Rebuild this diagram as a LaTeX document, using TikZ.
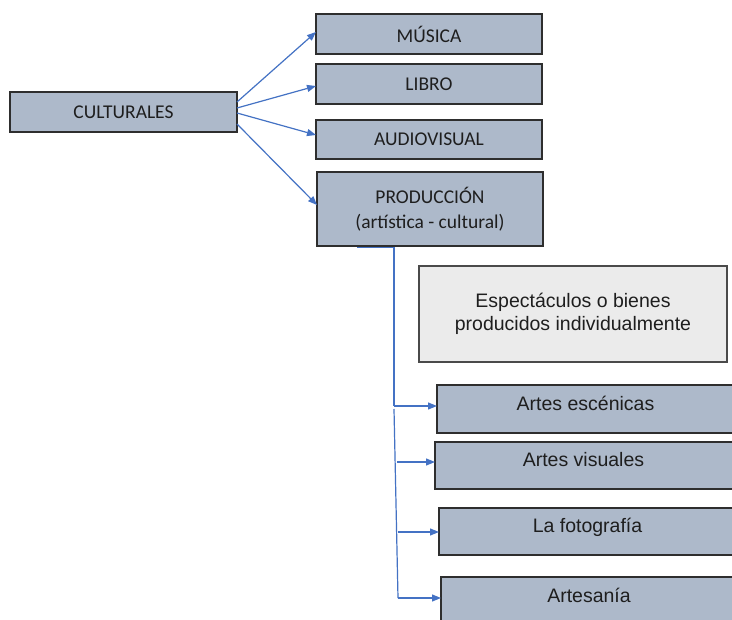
\documentclass[tikz,border=0pt]{standalone}
\usepackage{fontspec}
\setmainfont{Liberation Sans}
\newfontfamily\calibrifont{Carlito}
\usetikzlibrary{arrows.meta,calc}
\definecolor{boxfill}{HTML}{ADB9CA}
\definecolor{boxline}{HTML}{2E2E2E}
\definecolor{lightfill}{HTML}{EBEBEB}
\definecolor{noteline}{HTML}{4A4A4A}
\definecolor{conncol}{HTML}{4472C4}
\definecolor{txt}{HTML}{1E1E1E}
\begin{document}
\begin{tikzpicture}[x=1pt,y=-1pt,
  base/.style={draw=boxline, line width=1.3pt, inner sep=0pt, outer sep=0pt, anchor=north west, text=txt},
  topbox/.style={base, fill=boxfill, font=\calibrifont\fontsize{19.5pt}{25pt}\selectfont, align=center},
  lowbox/.style={base, fill=boxfill, font=\fontsize{19.5pt}{23pt}\selectfont, text height=14pt, text depth=11pt},
  notebox/.style={base, fill=lightfill, draw=noteline, line width=1.1pt, font=\fontsize{19.5pt}{23pt}\selectfont, align=center},
  conn/.style={draw=conncol, line width=1.2pt, -{Triangle[length=9pt,width=7pt]}},
  plain/.style={draw=conncol, line width=1.2pt}]
\clip (0,0) rectangle (732,620);
\fill[white] (0,0) rectangle (732,620);
% top part
\node[topbox, minimum width=227pt, minimum height=40pt] (cult) at (10,92) {CULTURALES};
\node[topbox, minimum width=226pt, minimum height=40pt] (mus) at (316,14) {MÚSICA};
\node[topbox, minimum width=226pt, minimum height=40pt] (lib) at (316,64) {LIBRO};
\node[topbox, minimum width=226pt, minimum height=39pt] (aud) at (316,120) {AUDIOVISUAL};
\node[topbox, minimum width=226pt, minimum height=74pt] (prod) at (317,172) {PRODUCCIÓN\\(artística - cultural)};
% note box
\node[notebox, minimum width=308pt, minimum height=96pt] (note) at (419,266) {Espectáculos o bienes\\producidos individualmente};
% lower boxes (right edge runs past the picture)
\node[lowbox, minimum width=309pt, minimum height=48pt] (esc) at (437,385) {Artes escénicas\hspace*{12pt}};
\node[lowbox, minimum width=309pt, minimum height=47pt] (vis) at (435,442) {Artes visuales\hspace*{12pt}};
\node[lowbox, minimum width=309pt, minimum height=47pt] (fot) at (439,508) {La fotografía\hspace*{12pt}};
\node[lowbox, minimum width=308pt, minimum height=47pt] (art) at (441,577) {Artesanía\hspace*{12pt}};
% connectors from CULTURALES
\draw[conn] ($(cult.north east)+(0,10)$) -- ($(mus.north west)+(0,18)$);
\draw[conn] ($(cult.north east)+(0,16)$) -- ($(lib.north west)+(0,22)$);
\draw[conn] ($(cult.north east)+(0,21)$) -- ($(aud.north west)+(0,15)$);
\draw[conn] ($(cult.north east)+(0,32)$) -- ($(prod.north west)+(0,33)$);
% connectors from PRODUCCION
\coordinate (b0) at (357,247.5);
\coordinate (b1) at (394,247.5);
\coordinate (b2) at (394,406);
\coordinate (c0) at (394,409);
\coordinate (c1) at (397,462);
\coordinate (c2) at (398,532);
\coordinate (c3) at (398,598);
\draw[plain] (b0) -- (b1) -- (b2);
\draw[conn] (b2) -- (esc.west |- b2);
\draw[plain] (c0) -- (c3);
\draw[conn] (c1) -- (vis.west |- c1);
\draw[conn] (c2) -- (fot.west |- c2);
\draw[conn] (c3) -- (art.west |- c3);
\end{tikzpicture}
\end{document}
